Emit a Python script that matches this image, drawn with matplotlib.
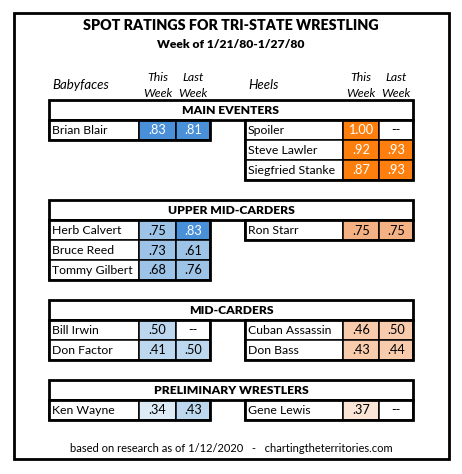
import matplotlib
matplotlib.use("Agg")
import matplotlib.pyplot as plt
from matplotlib.patches import Rectangle

# ---- data ----
title = "SPOT RATINGS FOR TRI-STATE WRESTLING"
subtitle = "Week of 1/21/80-1/27/80"
footer = "based on research as of 1/12/2020   -   chartingtheterritories.com"
sections = ["MAIN EVENTERS", "UPPER MID-CARDERS", "MID-CARDERS", "PRELIMINARY WRESTLERS"]

face_section = [0, 1, 1, 1, 2, 2, 3]
face_names = ["Brian Blair", "Herb Calvert", "Bruce Reed", "Tommy Gilbert",
              "Bill Irwin", "Don Factor", "Ken Wayne"]
face_this = [.83, .75, .73, .68, .50, .41, .34]
face_last = [.81, .83, .61, .76, None, .50, .43]

heel_section = [0, 0, 0, 1, 2, 2, 3]
heel_names = ["Spoiler", "Steve Lawler", "Siegfried Stanke", "Ron Starr",
              "Cuban Assassin", "Don Bass", "Gene Lewis"]
heel_this = [1.00, .92, .87, .75, .46, .43, .37]
heel_last = [None, .93, .93, .75, .50, .44, None]

# ---- style ----
FONT = "Lato"
blue_scale = ["#DDEBF7", "#BDD7EE", "#9DC3E6", "#4A90D9"]
orange_scale = ["#FBE5D6", "#F8CBAD", "#F4B183", "#FF7F0E"]


def fill(v, scale):
    if v is None:
        return "white"
    if v >= .80:
        return scale[3]
    if v >= .60:
        return scale[2]
    if v >= .40:
        return scale[1]
    return scale[0]


def fmt(v):
    if v is None:
        return "--"
    s = f"{v:.2f}"
    return s[1:] if s.startswith("0") else s


W, H = 462, 474
fig = plt.figure(figsize=(W / 100, H / 100), dpi=100)
ax = fig.add_axes([0, 0, 1, 1])
ax.set_xlim(0, W)
ax.set_ylim(H, 0)
ax.axis("off")

# layout
ROW = 20
LEFT = [49, 139, 176, 210]
RIGHT = [245, 343, 379, 413]
FIRST_TOP = 100
THIN, THICK = 1.1, 2.0
BODY = 8.8

# outer border
ax.add_patch(Rectangle((13.5, 13), 435, 446, fill=False, ec="black", lw=2.0))

ax.text(231, 25, title, ha="center", va="center", fontsize=10.3,
        fontweight="heavy", family=FONT)
ax.text(231, 44, subtitle, ha="center", va="center", fontsize=8.7,
        fontweight="heavy", family=FONT)

# column headings
for cols, label in ((LEFT, "Babyfaces"), (RIGHT, "Heels")):
    ax.text(cols[0] + 3, 85, label, ha="left", va="center", fontsize=9.5,
            style="italic", family=FONT)
    for k, top in ((0, "This"), (1, "Last")):
        cx = (cols[1 + k] + cols[2 + k]) / 2
        ax.text(cx, 77, top, ha="center", va="center", fontsize=8.8,
                style="italic", family=FONT)
        ax.text(cx, 93, "Week", ha="center", va="center", fontsize=8.8,
                style="italic", family=FONT)


def draw_row(cols, y, name, v1, v2, scale):
    ax.add_patch(Rectangle((cols[0], y), cols[1] - cols[0], ROW,
                           fc="white", ec="black", lw=THIN))
    ax.text(cols[0] + 3, y + ROW / 2 + 0.5, name, ha="left", va="center",
            fontsize=BODY, family=FONT)
    for k, v in enumerate((v1, v2)):
        x0, x1 = cols[1 + k], cols[2 + k]
        c = fill(v, scale)
        ax.add_patch(Rectangle((x0, y), x1 - x0, ROW, fc=c, ec="black", lw=THIN))
        tc = "white" if (v is not None and v >= .80) else "black"
        ax.text((x0 + x1) / 2, y + ROW / 2 + 0.5, fmt(v), ha="center",
                va="center", fontsize=BODY + 0.4, color=tc, family=FONT)


top = FIRST_TOP
for s, sec in enumerate(sections):
    ax.add_patch(Rectangle((LEFT[0], top), RIGHT[3] - LEFT[0], ROW,
                           fc="white", ec="black", lw=THICK))
    ax.text((LEFT[0] + RIGHT[3]) / 2, top + ROW / 2 + 0.5, sec, ha="center",
            va="center", fontsize=8.7, fontweight="heavy", family=FONT)
    nrows = 0
    for cols, secs, names, t, l, scale in (
            (LEFT, face_section, face_names, face_this, face_last, blue_scale),
            (RIGHT, heel_section, heel_names, heel_this, heel_last, orange_scale)):
        idx = [i for i, q in enumerate(secs) if q == s]
        for r, i in enumerate(idx):
            draw_row(cols, top + ROW * (r + 1), names[i], t[i], l[i], scale)
        if idx:
            ax.add_patch(Rectangle((cols[0], top + ROW), cols[3] - cols[0],
                                   ROW * len(idx), fill=False, ec="black",
                                   lw=THICK))
        nrows = max(nrows, len(idx))
    top += ROW * (nrows + 2)

ax.text(231, 449, footer, ha="center", va="center", fontsize=8.0, family=FONT)

fig.savefig("out.png", dpi=100, facecolor="white")
